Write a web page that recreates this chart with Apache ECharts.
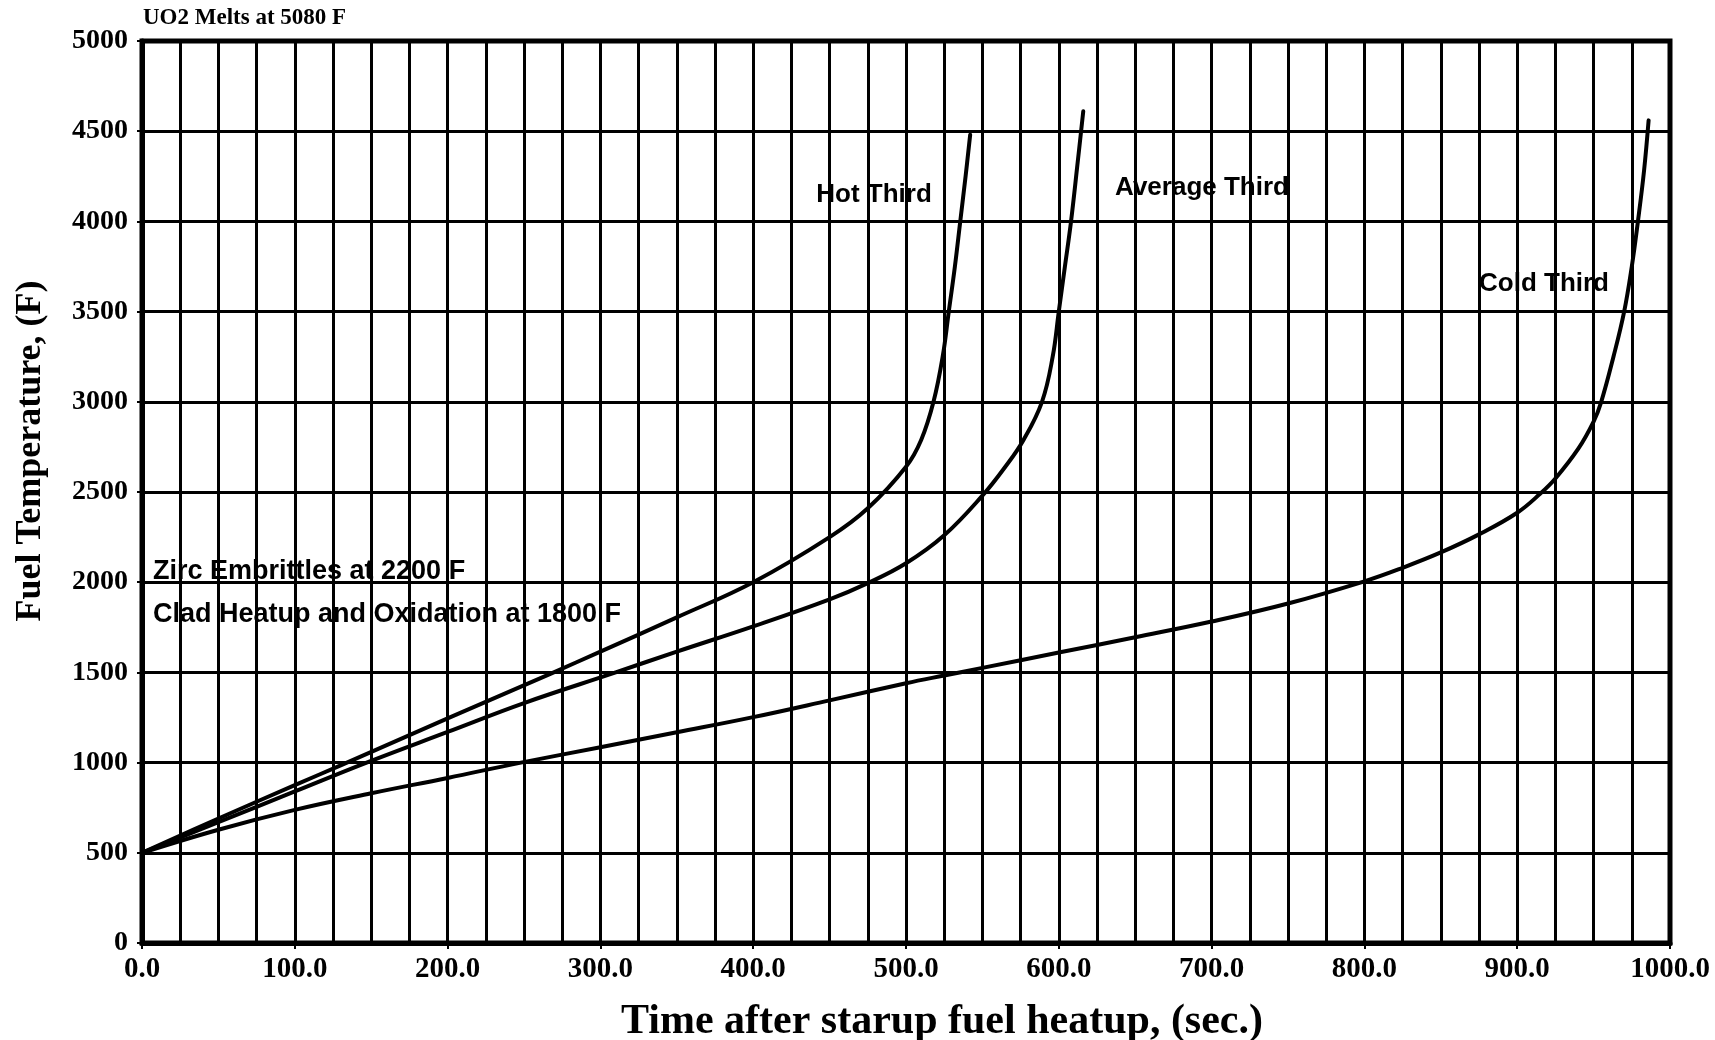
<!DOCTYPE html>
<html>
<head>
<meta charset="utf-8">
<script src="https://cdn.jsdelivr.net/npm/echarts@6/dist/echarts.min.js"></script>
<style>
  html, body { margin: 0; padding: 0; background: #fff; }
  #chart { width: 1715px; height: 1040px; }
</style>
</head>
<body>
<div id="chart"></div>
<script>
// Fuel temperature (F) against time after start of fuel heatup (sec)
const hotThird = [
  [0, 500], [50, 690], [100, 875], [130, 985], [200, 1245], [268, 1495],
  [300, 1615], [350, 1805], [400, 2000], [450, 2250], [475, 2410],
  [500, 2640], [510, 2790], [518, 3000], [524, 3250], [528, 3500],
  [532, 3750], [535.5, 4000], [539, 4250], [542, 4480]
];
const averageThird = [
  [0, 500], [50, 670], [100, 840], [147, 1000], [200, 1170], [250, 1330],
  [310, 1500], [350, 1615], [400, 1755], [450, 1905], [475, 1995],
  [500, 2105], [525, 2260], [550, 2480], [565, 2640], [577, 2790],
  [589, 3000], [596, 3250], [600, 3500], [604, 3750], [608, 4000],
  [612, 4300], [616, 4610]
];
const coldThird = [
  [0, 500], [50, 628], [100, 738], [150, 830], [200, 915], [248, 1000],
  [300, 1085], [350, 1168], [400, 1252], [450, 1345], [500, 1440],
  [525, 1483], [550, 1525], [600, 1610], [650, 1695], [700, 1782],
  [750, 1882], [800, 2005], [825, 2080], [850, 2165], [875, 2265],
  [900, 2385], [915, 2490], [925, 2575], [940, 2740], [950, 2890],
  [955, 3000], [963, 3250], [970, 3500], [975, 3750], [979, 4000],
  [983, 4280], [986, 4560]
];
const timeTicks = [0, 100, 200, 300, 400, 500, 600, 700, 800, 900, 1000];
const tempTicks = [0, 500, 1000, 1500, 2000, 2500, 3000, 3500, 4000, 4500, 5000];

const serif = '"Liberation Serif", "Times New Roman", serif';
const sans = '"Liberation Sans", Arial, sans-serif';
const ink = '#000';

const curve = (name, data) => ({
  name, type: 'line', data,
  smooth: 0.4,
  symbol: 'none', silent: true,
  lineStyle: { color: ink, width: 4, join: 'round', cap: 'round' },
  z: 5
});

const chart = echarts.init(document.getElementById('chart'), null, { renderer: 'canvas' });
chart.setOption({
  animation: false,
  backgroundColor: '#fff',
  grid: {
    left: 142, right: 45, top: 41, bottom: 97,
    show: true, borderColor: ink, borderWidth: 5, backgroundColor: 'transparent'
  },
  xAxis: {
    type: 'value',
    min: timeTicks[0], max: timeTicks[timeTicks.length - 1],
    interval: timeTicks[1] - timeTicks[0],
    axisLine: { show: true, lineStyle: { color: ink, width: 5 } },
    axisTick: { show: true, length: 6, lineStyle: { color: ink, width: 2 } },
    axisLabel: {
      margin: 12, color: ink, fontFamily: serif, fontWeight: 'bold', fontSize: 29,
      formatter: v => v.toFixed(1)
    },
    splitLine: { show: true, lineStyle: { color: ink, width: 3 } },
    minorTick: { show: false, splitNumber: 4 },
    minorSplitLine: { show: true, lineStyle: { color: ink, width: 3 } }
  },
  yAxis: {
    type: 'value',
    min: tempTicks[0], max: tempTicks[tempTicks.length - 1],
    interval: tempTicks[1] - tempTicks[0],
    axisLine: { show: true, lineStyle: { color: ink, width: 5 } },
    axisTick: { show: true, length: 5, lineStyle: { color: ink, width: 2 } },
    axisLabel: {
      margin: 14, color: ink, fontFamily: serif, fontWeight: 'bold', fontSize: 28,
      formatter: v => String(v)
    },
    splitLine: { show: true, lineStyle: { color: ink, width: 3 } }
  },
  series: [
    curve('Hot Third', hotThird),
    curve('Average Third', averageThird),
    curve('Cold Third', coldThird)
  ],
  graphic: [
    { type: 'text', left: 143, top: 7, z: 10,
      style: { text: 'UO2 Melts at 5080 F', fill: ink, font: 'bold 23px ' + serif } },
    { type: 'text', x: 31, y: 451, rotation: Math.PI / 2, z: 10,
      style: { text: 'Fuel Temperature, (F)', fill: ink, font: 'bold 36px ' + serif,
               align: 'center', verticalAlign: 'middle' } },
    { type: 'text', x: 942, y: 1022, z: 10,
      style: { text: 'Time after starup fuel heatup, (sec.)', fill: ink, font: 'bold 42px ' + serif,
               align: 'center', verticalAlign: 'middle' } },
    { type: 'text', x: 874, y: 195, z: 10,
      style: { text: 'Hot Third', fill: ink, font: 'bold 26px ' + sans,
               align: 'center', verticalAlign: 'middle' } },
    { type: 'text', x: 1202, y: 188, z: 10,
      style: { text: 'Average Third', fill: ink, font: 'bold 26px ' + sans,
               align: 'center', verticalAlign: 'middle' } },
    { type: 'text', x: 1544, y: 284, z: 10,
      style: { text: 'Cold Third', fill: ink, font: 'bold 26px ' + sans,
               align: 'center', verticalAlign: 'middle' } },
    { type: 'text', x: 153, y: 572, z: 10,
      style: { text: 'Zirc Embrittles at 2200 F', fill: ink, font: 'bold 27px ' + sans,
               align: 'left', verticalAlign: 'middle' } },
    { type: 'text', x: 153, y: 615, z: 10,
      style: { text: 'Clad Heatup and Oxidation at 1800 F', fill: ink, font: 'bold 27px ' + sans,
               align: 'left', verticalAlign: 'middle' } }
  ]
});
</script>
</body>
</html>
